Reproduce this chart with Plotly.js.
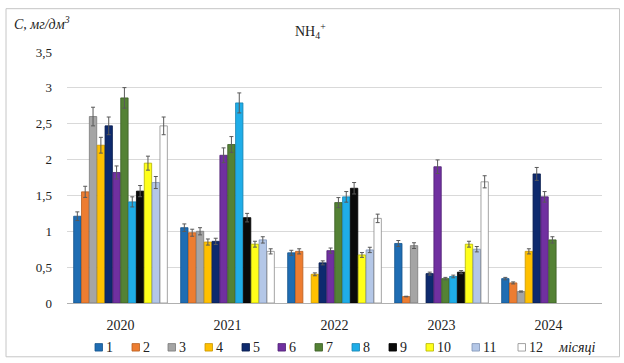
<!DOCTYPE html>
<html>
<head>
<meta charset="utf-8">
<script src="https://cdn.plot.ly/plotly-3.0.1.min.js"></script>
<style>
  html, body { margin: 0; padding: 0; background: #ffffff; }
  #chart { width: 624px; height: 363px; }
</style>
</head>
<body>
<div id="chart"></div>
<script>
// NH4+ concentration by month, mg/dm3, years 2020–2024
const years = ['2020', '2021', '2022', '2023', '2024'];
const months = ['1', '2', '3', '4', '5', '6', '7', '8', '9', '10', '11', '12'];

const month1  = [1.21, 1.05, 0.70, 0.83, 0.34];
const month2  = [1.55, 0.98, 0.72, 0.09, 0.28];
const month3  = [2.60, 1.00, null, 0.80, 0.16];
const month4  = [2.20, 0.85, 0.40, null, 0.72];
const month5  = [2.47, 0.86, 0.56, 0.41, 1.80];
const month6  = [1.82, 2.06, 0.73, 1.90, 1.48];
const month7  = [2.86, 2.21, 1.40, 0.34, 0.88];
const month8  = [1.41, 2.79, 1.48, 0.37, null];
const month9  = [1.56, 1.19, 1.60, 0.43, null];
const month10 = [1.95, 0.82, 0.67, 0.82, null];
const month11 = [1.68, 0.88, 0.74, 0.75, null];
const month12 = [2.47, 0.72, 1.18, 1.69, null];

const seriesValues = [month1, month2, month3, month4, month5, month6,
                      month7, month8, month9, month10, month11, month12];

const fillColors = ['#1f6db3', '#ed7d31', '#a5a5a5', '#ffc000', '#0e2a6e', '#7030a0',
                    '#548235', '#1fade8', '#0a0a0a', '#ffff1a', '#b4c7e7', '#ffffff'];
const edgeColors = ['#15548c', '#b85e20', '#7a7a7a', '#c79600', '#081c4d', '#4f2173',
                    '#3b5d25', '#1683b0', '#000000', '#b3b300', '#7f93b5', '#8c8c8c'];

const traces = seriesValues.map((vals, i) => ({
  type: 'bar',
  name: months[i],
  x: years,
  y: vals,
  marker: { color: fillColors[i], line: { color: edgeColors[i], width: 0.8 } },
  error_y: { type: 'percent', value: 5, symmetric: true, color: '#595959', thickness: 1, width: 2 },
  showlegend: false,
  hoverinfo: 'x+y+name'
}));

// plot-area geometry in pixels (used to place the frame and legend)
const L = 67, R = 602, T = 51.5, B = 303.5;
const W = 624, H = 363;
const px = v => (v - L) / (R - L);
const py = v => (B - v) / (B - T);

const serif = 'Liberation Serif, Times New Roman, serif';
const shapes = [{
  type: 'rect', xref: 'paper', yref: 'paper',
  x0: px(6), x1: px(619.5), y0: py(357.5), y1: py(8),
  line: { color: '#c6c6c6', width: 1 }, fillcolor: 'rgba(0,0,0,0)'
}];
const annotations = [
  { xref: 'paper', yref: 'paper', x: px(12), y: py(22), xanchor: 'left', yanchor: 'middle',
    text: '<i>C, мг/дм<sup>3</sup></i>', showarrow: false,
    font: { family: serif, size: 14, color: '#222' } },
  { xref: 'paper', yref: 'paper', x: px(310), y: py(30), xanchor: 'center', yanchor: 'middle',
    text: 'NH<sub>4</sub><sup>+</sup>', showarrow: false,
    font: { family: serif, size: 14, color: '#222' } }
];

// legend row: small swatch followed by month number
const legendX = [95, 132, 168, 205, 242, 278, 315, 352, 389, 426, 472, 518];
const legendY = 348;
months.forEach((m, i) => {
  shapes.push({
    type: 'rect', xref: 'paper', yref: 'paper',
    x0: px(legendX[i]), x1: px(legendX[i] + 7.5),
    y0: py(legendY + 3.75), y1: py(legendY - 3.75),
    fillcolor: fillColors[i], line: { color: edgeColors[i], width: 0.8 }
  });
  annotations.push({
    xref: 'paper', yref: 'paper', x: px(legendX[i] + 9), y: py(legendY),
    xanchor: 'left', yanchor: 'middle', text: m, showarrow: false,
    font: { family: serif, size: 14, color: '#222' }
  });
});
annotations.push({
  xref: 'paper', yref: 'paper', x: px(556), y: py(legendY),
  xanchor: 'left', yanchor: 'middle', text: '<i>місяці</i>', showarrow: false,
  font: { family: serif, size: 14, color: '#222' }
});

const layout = {
  width: W, height: H,
  margin: { l: L, r: W - R, t: T, b: H - B, pad: 0 },
  paper_bgcolor: '#ffffff', plot_bgcolor: '#ffffff',
  separators: ', ',
  barmode: 'group', bargap: 0.12, bargroupgap: 0.06,
  showlegend: false,
  font: { family: serif, size: 13, color: '#222' },
  xaxis: {
    type: 'category', showgrid: false, showline: true, linecolor: '#b0b0b0', linewidth: 1,
    ticks: '', tickfont: { family: serif, size: 14, color: '#222' },
    ticklabelstandoff: 9, zeroline: false, fixedrange: true
  },
  yaxis: {
    range: [0, 3.5], dtick: 0.5, tick0: 0, showgrid: true, gridcolor: '#d9d9d9', gridwidth: 1,
    zeroline: false, showline: false, ticks: '',
    tickfont: { family: serif, size: 13, color: '#222' },
    ticklabelstandoff: 14, fixedrange: true
  },
  shapes: shapes,
  annotations: annotations
};

Plotly.newPlot('chart', traces, layout, { displayModeBar: false, staticPlot: true });
</script>
</body>
</html>
